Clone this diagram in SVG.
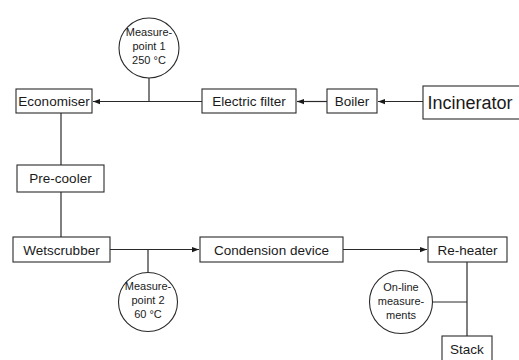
<svg xmlns="http://www.w3.org/2000/svg" width="519" height="360" viewBox="0 0 519 360">
<style>
.box{fill:#fff;stroke:#2a2a2a;stroke-width:1.1}
.circ{fill:#fff;stroke:#2a2a2a;stroke-width:1.1}
.lbl{font-family:"Liberation Sans",Arial,sans-serif;font-size:13.5px;fill:#1a1a1a;text-anchor:middle}
.big{font-size:18px}
.sm{font-family:"Liberation Sans",Arial,sans-serif;font-size:11px;fill:#1a1a1a;text-anchor:middle}
.ln{stroke:#2a2a2a;stroke-width:1.2;fill:none}
</style>
<defs>
<marker id="ah" viewBox="0 0 8 8" refX="8" refY="4" markerWidth="7" markerHeight="7" markerUnits="userSpaceOnUse" orient="auto">
<path d="M0,1 L8,4 L0,7 Z" fill="#1a1a1a"/>
</marker>
</defs>
<g id="connectors">
<line class="ln" x1="423" y1="101.5" x2="378" y2="101.5" marker-end="url(#ah)"/>
<line class="ln" x1="327" y1="101.5" x2="297" y2="101.5" marker-end="url(#ah)"/>
<line class="ln" x1="202" y1="101.5" x2="93" y2="101.5" marker-end="url(#ah)"/>
<line class="ln" x1="149" y1="101.5" x2="149" y2="77"/>
<line class="ln" x1="61" y1="113" x2="61" y2="165"/>
<line class="ln" x1="61" y1="192" x2="61" y2="237"/>
<line class="ln" x1="110" y1="249.5" x2="199" y2="249.5" marker-end="url(#ah)"/>
<line class="ln" x1="148" y1="249.5" x2="148" y2="273"/>
<line class="ln" x1="343" y1="249.5" x2="427" y2="249.5" marker-end="url(#ah)"/>
<line class="ln" x1="467" y1="262" x2="467" y2="336"/>
<line class="ln" x1="433" y1="302" x2="467" y2="302"/>
</g>
<g id="mp1">
<circle class="circ" cx="149" cy="48" r="30"/>
<text class="sm" x="149" y="36">Measure-</text>
<text class="sm" x="149" y="50">point 1</text>
<text class="sm" x="149" y="64">250 °C</text>
</g>
<g id="economiser">
<rect class="box" x="16" y="89" width="76" height="24"/>
<text class="lbl" x="54" y="106">Economiser</text>
</g>
<g id="electric-filter">
<rect class="box" x="202" y="89" width="94" height="24"/>
<text class="lbl" x="249" y="106">Electric filter</text>
</g>
<g id="boiler">
<rect class="box" x="327" y="89" width="50" height="24"/>
<text class="lbl" x="352" y="106">Boiler</text>
</g>
<g id="incinerator">
<rect class="box" x="423" y="86" width="100" height="33"/>
<text class="lbl big" x="470" y="108.5">Incinerator</text>
</g>
<g id="pre-cooler">
<rect class="box" x="17" y="165" width="87" height="27"/>
<text class="lbl" x="60.5" y="183">Pre-cooler</text>
</g>
<g id="wetscrubber">
<rect class="box" x="13" y="237" width="97" height="25"/>
<text class="lbl" x="61.5" y="254.5">Wetscrubber</text>
</g>
<g id="mp2">
<circle class="circ" cx="148" cy="302" r="29.5"/>
<text class="sm" x="148" y="290">Measure-</text>
<text class="sm" x="148" y="304">point 2</text>
<text class="sm" x="148" y="318">60 °C</text>
</g>
<g id="condension">
<rect class="box" x="200" y="237" width="143" height="25"/>
<text class="lbl" x="271.5" y="254.5">Condension device</text>
</g>
<g id="re-heater">
<rect class="box" x="428" y="237" width="79" height="25"/>
<text class="lbl" x="467.5" y="254.5">Re-heater</text>
</g>
<g id="online">
<circle class="circ" cx="401" cy="302" r="31.5"/>
<text class="sm" x="401" y="291">On-line</text>
<text class="sm" x="401" y="305">measure-</text>
<text class="sm" x="401" y="319">ments</text>
</g>
<g id="stack">
<rect class="box" x="442" y="336" width="50" height="28"/>
<text class="lbl" x="467" y="354">Stack</text>
</g>
</svg>
